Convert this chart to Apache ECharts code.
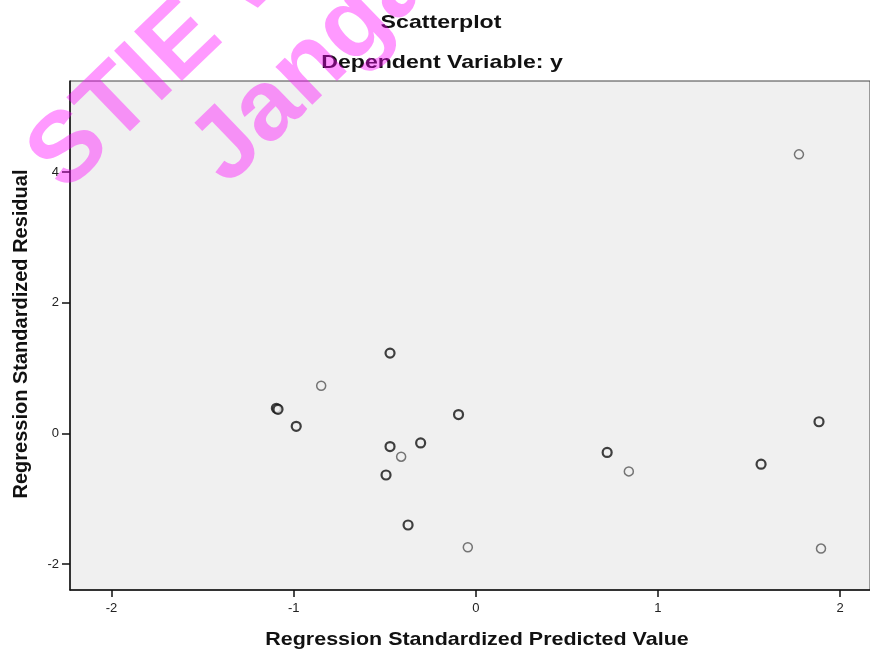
<!DOCTYPE html>
<html>
<head>
<meta charset="utf-8">
<script src="https://cdn.jsdelivr.net/npm/echarts@6/dist/echarts.min.js"></script>
<style>
  html, body { margin: 0; padding: 0; background: #fff; }
  #chart { width: 870px; height: 650px; }
</style>
</head>
<body>
<div id="chart"></div>
<script>
// points drawn with a heavy ring (overlapping cases in the SPSS output)
var predDark = [-0.471, -1.095, -1.086, -0.986, -0.095, -0.471, -0.303, -0.493, -0.372, 0.721, 1.566, 1.884];
var residDark = [1.23, 0.385, 0.37, 0.11, 0.29, -0.20, -0.145, -0.635, -1.40, -0.29, -0.47, 0.18];
// single points, lighter ring
var predLight = [1.774, -0.849, -0.41, 0.84, -0.044, 1.895];
var residLight = [4.27, 0.73, -0.355, -0.58, -1.74, -1.76];

var xTicks = [-2, -1, 0, 1, 2];
var yTicks = [-2, 0, 2, 4];

var titleText = 'Scatterplot';
var subText = 'Dependent Variable: y';
var xName = 'Regression Standardized Predicted Value';
var yName = 'Regression Standardized Residual';
var watermark = ['STIE Widya Wiwaha', 'Jangan Plagiat'];

function pairs(xs, ys) {
  return xs.map(function (x, i) { return [x, ys[i]]; });
}

var chart = echarts.init(document.getElementById('chart'));
var font = '"Liberation Sans", Arial, sans-serif';
var wmAngle = 44 * Math.PI / 180;

chart.setOption({
  animation: false,
  grid: {
    left: 70, top: 81, right: -2, bottom: 60,
    show: true, backgroundColor: '#f0f0f0', borderColor: '#444', borderWidth: 1
  },
  xAxis: {
    type: 'value', min: -2.228, max: 2.164,
    axisLine: { onZero: false, lineStyle: { color: '#111', width: 1.5 } },
    axisTick: { customValues: xTicks, length: 7, lineStyle: { color: '#111', width: 1.5 } },
    axisLabel: { customValues: xTicks, margin: 12, fontFamily: font, fontSize: 13, color: '#222' },
    splitLine: { show: false }
  },
  yAxis: {
    type: 'value', min: -2.394, max: 5.392,
    axisLine: { onZero: false, lineStyle: { color: '#111', width: 1.5 } },
    axisTick: { customValues: yTicks, length: 8, lineStyle: { color: '#111', width: 1.5 } },
    axisLabel: { customValues: yTicks, margin: 11, fontFamily: font, fontSize: 13, color: '#222' },
    splitLine: { show: false }
  },
  series: [
    {
      type: 'scatter', data: pairs(predLight, residLight), symbol: 'circle', symbolSize: 9,
      itemStyle: { color: '#f0f0f0', borderColor: '#555', borderWidth: 1.5 },
      emphasis: { disabled: true }
    },
    {
      type: 'scatter', data: pairs(predDark, residDark), symbol: 'circle', symbolSize: 9,
      itemStyle: { color: '#f0f0f0', borderColor: '#111', borderWidth: 2.2 },
      emphasis: { disabled: true }
    }
  ],
  graphic: [
    { type: 'text', x: 441, y: 23, scaleX: 1.25,
      style: { text: titleText, font: 'bold 18.5px ' + font, fill: '#111', align: 'center', verticalAlign: 'middle' } },
    { type: 'text', x: 442, y: 63, scaleX: 1.25,
      style: { text: subText, font: 'bold 18.5px ' + font, fill: '#111', align: 'center', verticalAlign: 'middle' } },
    { type: 'text', x: 477, y: 640, scaleX: 1.16,
      style: { text: xName, font: 'bold 18.5px ' + font, fill: '#111', align: 'center', verticalAlign: 'middle' } },
    { type: 'text', x: 21, y: 334, rotation: Math.PI / 2,
      style: { text: yName, font: 'bold 20px ' + font, fill: '#111', align: 'center', verticalAlign: 'middle' } },
    // pink watermark over everything
    { type: 'text', x: 46, y: 174, rotation: wmAngle, z: 100,
      style: { text: watermark[0], font: 'bold 100px ' + font, fill: 'rgba(255,0,255,0.4)', align: 'left', verticalAlign: 'middle' } },
    { type: 'text', x: 208, y: 167, rotation: wmAngle, z: 100,
      style: { text: watermark[1], font: 'bold 100px ' + font, fill: 'rgba(255,0,255,0.4)', align: 'left', verticalAlign: 'middle' } }
  ]
});
</script>
</body>
</html>
